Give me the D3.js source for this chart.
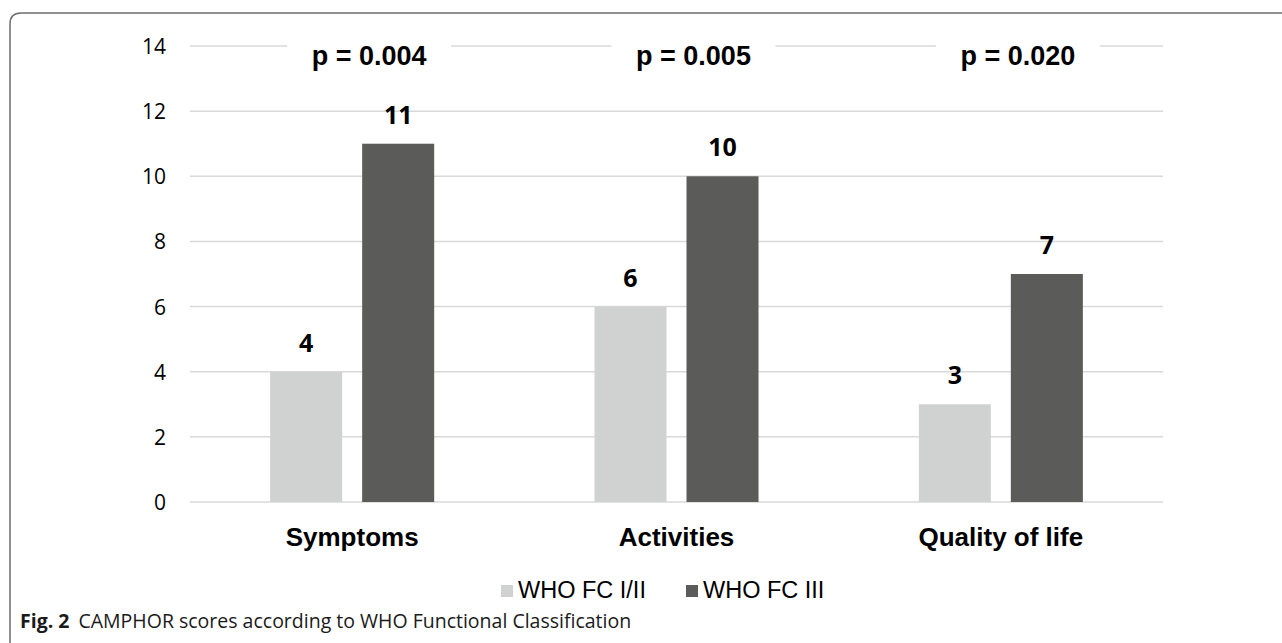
<!DOCTYPE html>
<html>
<head>
<meta charset="utf-8">
<script src="https://cdn.jsdelivr.net/npm/d3@7"></script>
<style>
  body { margin: 0; background: #fff; }
  svg { display: block; }
</style>
</head>
<body>
<div class="chart"></div>
<script>
const categories = ['Symptoms', 'Activities', 'Quality of life'];
const seriesNames = ['WHO FC I/II', 'WHO FC III'];
const fcLow = [4, 6, 3];
const fcHigh = [11, 10, 7];
const pValues = ['p = 0.004', 'p = 0.005', 'p = 0.020'];
const yTicks = [0, 2, 4, 6, 8, 10, 12, 14];

const colors = ['#d0d2d1', '#5b5b5a'];
const width = 1282;
const height = 643;

const svg = d3
  .select('.chart')
  .append('svg')
  .attr('width', width)
  .attr('height', height);

// frame: top + left with rounded corner
svg
  .append('path')
  .attr('d', 'M10,643 L10,24 Q10,13 21,13 L1282,13')
  .attr('fill', 'none')
  .attr('stroke', '#6e6e6e')
  .attr('stroke-width', 1.5);

const x0 = d3.scaleBand().domain(categories).range([190, 1163]).padding(0);
const x1 = d3
  .scaleBand()
  .domain(seriesNames)
  .range([0, x0.bandwidth()])
  .paddingInner(0.2174)
  .paddingOuter(0.871);
const y = d3.scaleLinear().domain([0, 14]).range([502, 46]);

// gridlines
svg
  .append('g')
  .selectAll('line')
  .data(yTicks)
  .join('line')
  .attr('x1', 190)
  .attr('x2', 1163)
  .attr('y1', (d) => y(d))
  .attr('y2', (d) => y(d))
  .attr('stroke', '#d9d9d9')
  .attr('stroke-width', 1.5);

// y tick labels
const yAxis = d3.axisLeft(y).tickValues(yTicks).tickSize(0).tickPadding(0);
const yg = svg.append('g').attr('transform', 'translate(166,0)').call(yAxis);
yg.select('.domain').remove();
yg.selectAll('text')
  .attr('font-family', 'Open Sans, sans-serif')
  .attr('font-size', '21px')
  .attr('fill', '#000')
  .attr('dy', '0.36em');

const rows = categories.map((c, i) => ({
  cat: c,
  values: [fcLow[i], fcHigh[i]],
  p: pValues[i],
}));

const groups = svg
  .selectAll('.cat')
  .data(rows)
  .join('g')
  .attr('class', 'cat')
  .attr('transform', (d) => `translate(${x0(d.cat)},0)`);

groups
  .selectAll('rect')
  .data((d) => d.values.map((v, j) => ({ v, s: seriesNames[j], j })))
  .join('rect')
  .attr('x', (d) => x1(d.s))
  .attr('y', (d) => y(d.v))
  .attr('width', x1.bandwidth())
  .attr('height', (d) => y(0) - y(d.v))
  .attr('fill', (d) => colors[d.j]);

// value labels
groups
  .selectAll('text.val')
  .data((d) => d.values.map((v, j) => ({ v, s: seriesNames[j] })))
  .join('text')
  .attr('class', 'val')
  .attr('x', (d) => x1(d.s) + x1.bandwidth() / 2)
  .attr('y', (d) => y(d.v) - 20)
  .attr('text-anchor', 'middle')
  .attr('font-family', 'Open Sans, sans-serif')
  .attr('font-weight', 'bold')
  .attr('font-size', '25px')
  .text((d) => d.v);

// p-value labels with white box over gridline
groups
  .append('rect')
  .attr('x', x0.bandwidth() / 2 + 17 - 82)
  .attr('y', y(14) - 10)
  .attr('width', 164)
  .attr('height', 30)
  .attr('fill', '#fff');
groups
  .append('text')
  .attr('x', x0.bandwidth() / 2 + 17)
  .attr('y', 65)
  .attr('text-anchor', 'middle')
  .attr('font-family', 'Liberation Sans, Arial, sans-serif')
  .attr('font-weight', 'bold')
  .attr('font-size', '27px')
  .text((d) => d.p);

// category labels
groups
  .append('text')
  .attr('x', x0.bandwidth() / 2)
  .attr('y', 546)
  .attr('text-anchor', 'middle')
  .attr('font-family', 'Liberation Sans, Arial, sans-serif')
  .attr('font-weight', 'bold')
  .attr('font-size', '26px')
  .text((d) => d.cat);

// legend
const legendX = [501, 686];
const legend = svg
  .selectAll('.legend')
  .data(seriesNames)
  .join('g')
  .attr('class', 'legend')
  .attr('transform', (d, i) => `translate(${legendX[i]},585)`);
legend
  .append('rect')
  .attr('width', 12)
  .attr('height', 12)
  .attr('fill', (d, i) => colors[i]);
legend
  .append('text')
  .attr('x', 17)
  .attr('y', 13)
  .attr('font-family', 'Liberation Sans, Arial, sans-serif')
  .attr('font-size', '23.5px')
  .text((d) => d);

// caption
const cap = svg
  .append('text')
  .attr('x', 20)
  .attr('y', 628)
  .attr('font-family', 'Open Sans, sans-serif')
  .attr('font-size', '19.5px')
  .attr('fill', '#1a1a1a');
cap.append('tspan').attr('font-weight', 'bold').text('Fig. 2');
cap.append('tspan').attr('dx', 9).text('CAMPHOR scores according to WHO Functional Classification');
</script>
</body>
</html>
